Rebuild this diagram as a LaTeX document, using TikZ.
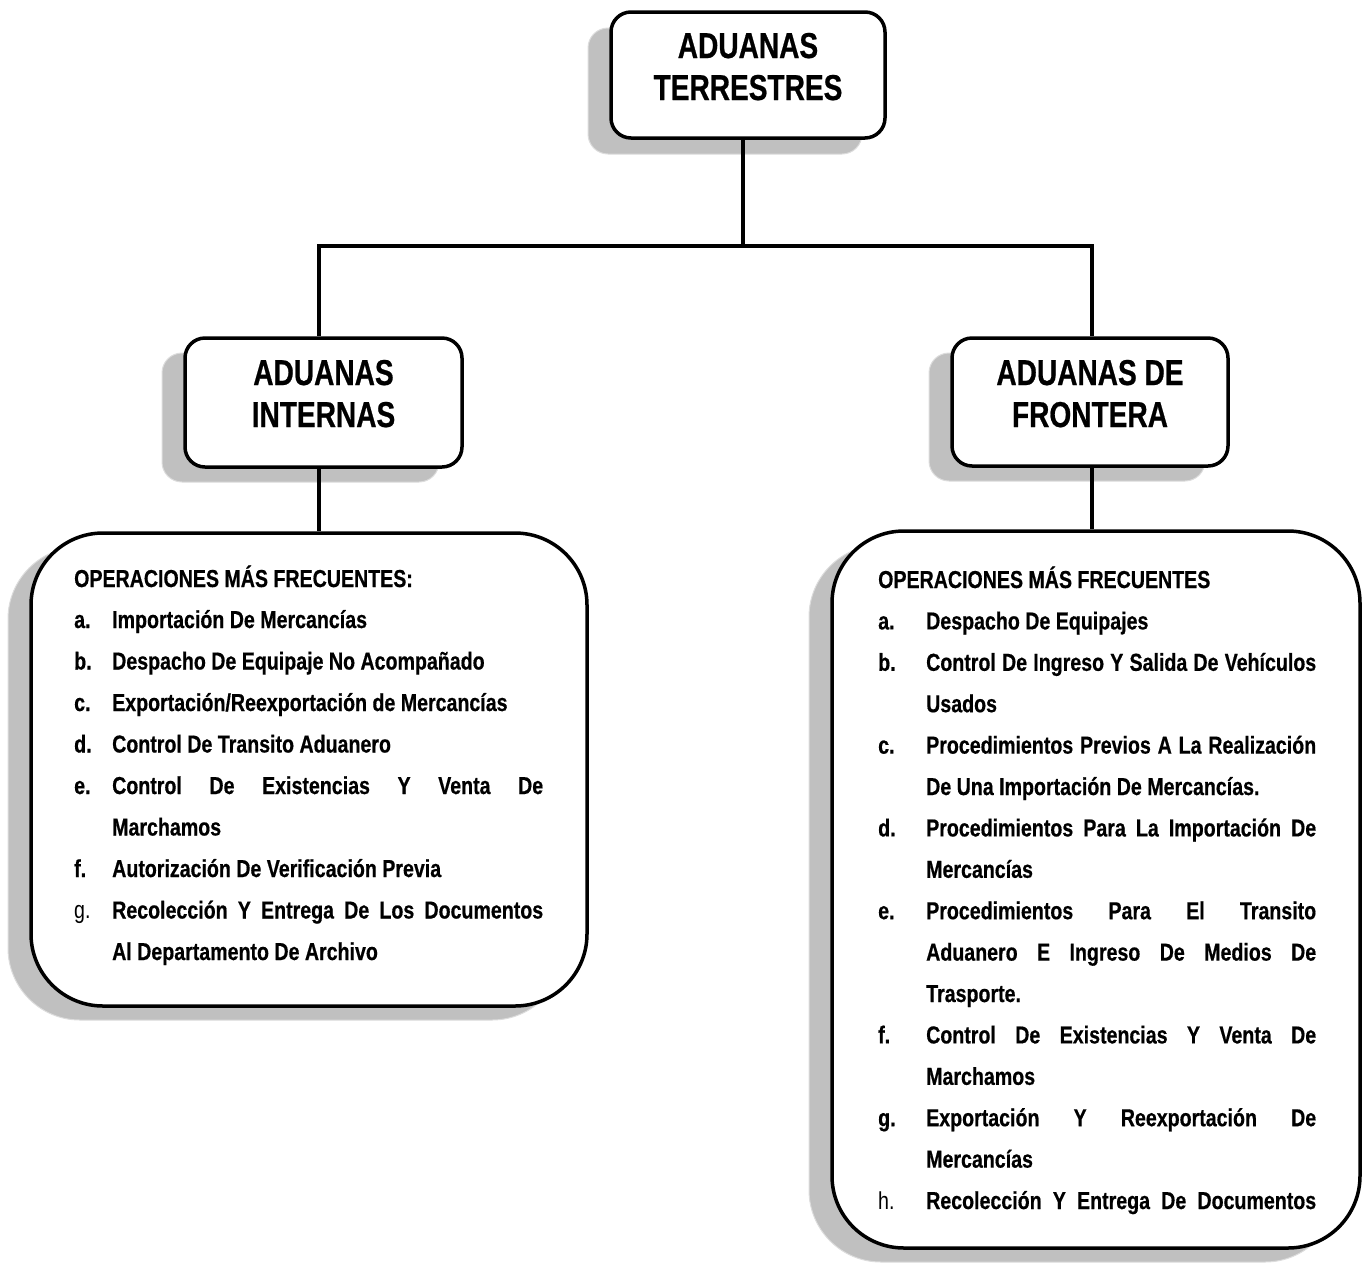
\documentclass[tikz,border=0pt]{standalone}
\usepackage{fontspec}
\setmainfont{Liberation Sans}
\newfontfamily\titlefont{Liberation Sans}[FakeStretch=0.78, BoldFeatures={FakeBold=0.6}]
\newfontfamily\bodyfont{Liberation Sans}[FakeStretch=0.8, BoldFeatures={FakeBold=0.5}]
\definecolor{shadowgray}{HTML}{C0C0C0}
\definecolor{shadowedge}{HTML}{DCDCDC}
\tikzset{
  shadowbox/.style={rectangle, inner sep=0pt, fill=shadowgray, draw=shadowedge, line width=1pt},
  mainbox/.style={rectangle, inner sep=0pt, fill=white, draw=black, line width=3.5pt},
  titletext/.style={inner sep=0pt, anchor=base, font=\titlefont\bfseries\fontsize{36}{42}\selectfont},
  bodytext/.style={inner sep=0pt, anchor=base west, font=\bodyfont\bfseries\fontsize{24.5}{30}\selectfont},
  lettertext/.style={inner sep=0pt, anchor=base west, font=\bodyfont\bfseries\fontsize{24.5}{30}\selectfont},
  plainletter/.style={inner sep=0pt, anchor=base west, font=\bodyfont\mdseries\fontsize{24.5}{30}\selectfont},
  connector/.style={draw=black, line width=3.5pt}
}
\newcommand{\LW}[1]{\makebox[431pt][s]{#1}}
\newcommand{\RW}[1]{\makebox[390pt][s]{#1}}
\begin{document}
\begin{tikzpicture}[x=1pt, y=-1pt]
\useasboundingbox (0,0) rectangle (1366,1262);

% shadows
\node[shadowbox, rounded corners=20pt, minimum width=274pt, minimum height=126pt] (topS) at (725,91) {};
\node[shadowbox, rounded corners=20pt, minimum width=277pt, minimum height=129pt] (lboxS) at (300.5,417.5) {};
\node[shadowbox, rounded corners=20pt, minimum width=276pt, minimum height=128pt] (rboxS) at (1067,417) {};
\node[shadowbox, rounded corners=72pt, minimum width=556pt, minimum height=473pt] (lbigS) at (286,783.5) {};
\node[shadowbox, rounded corners=72pt, minimum width=528pt, minimum height=717pt] (rbigS) at (1073,903.5) {};

% boxes
\node[mainbox, rounded corners=20pt, minimum width=274pt, minimum height=126pt] (top) at (748,75) {};
\node[mainbox, rounded corners=20pt, minimum width=277pt, minimum height=129pt] (lbox) at (323.5,402.5) {};
\node[mainbox, rounded corners=20pt, minimum width=276pt, minimum height=128pt] (rbox) at (1090,402) {};
\node[mainbox, rounded corners=72pt, minimum width=556pt, minimum height=473pt] (lbig) at (309,769.5) {};
\node[mainbox, rounded corners=72pt, minimum width=528pt, minimum height=717pt] (rbig) at (1096,889.5) {};

% connectors
\coordinate (jt) at (743,246);
\coordinate (jl) at (319,246);
\coordinate (jr) at (1092,246);
\draw[connector] (jt |- top.south) -- (jt);
\draw[connector, line cap=rect] (jl) -- (jr);
\draw[connector] (jl) -- (jl |- lbox.north);
\draw[connector] (jr) -- (jr |- rbox.north);
\draw[connector] (jl |- lbox.south) -- (jl |- lbig.north);
\draw[connector] (jr |- rbox.south) -- (jr |- rbig.north);

% titles
\node[titletext] (t1) at (748,58) {ADUANAS};
\node[titletext] (t2) at (748,100) {TERRESTRES};
\node[titletext] (l1) at (323.5,385) {ADUANAS};
\node[titletext] (l2) at (323.5,427) {INTERNAS};
\node[titletext] (r1) at (1090,385) {ADUANAS DE};
\node[titletext] (r2) at (1090,427) {FRONTERA};

% left list
\node[bodytext] (lh) at (74,587) {OPERACIONES MÁS FRECUENTES:};
\node[lettertext] (la) at (74,628) {a.};
\node[bodytext] (lat) at (112,628) {Importación De Mercancías};
\node[lettertext] (lb) at (74,669.5) {b.};
\node[bodytext] (lbt) at (112,669.5) {Despacho De Equipaje No Acompañado};
\node[lettertext] (lc) at (74,711) {c.};
\node[bodytext] (lct) at (112,711) {Exportación/Reexportación de Mercancías};
\node[lettertext] (ld) at (74,752.5) {d.};
\node[bodytext] (ldt) at (112,752.5) {Control De Transito Aduanero};
\node[lettertext] (le) at (74,794) {e.};
\node[bodytext] (let) at (112,794) {\LW{Control De Existencias Y Venta De}};
\node[bodytext] (let2) at (112,835.5) {Marchamos};
\node[lettertext] (lf) at (74,877) {f.};
\node[bodytext] (lft) at (112,877) {Autorización De Verificación Previa};
\node[plainletter] (lg) at (74,918.5) {g.};
\node[bodytext] (lgt) at (112,918.5) {\LW{Recolección Y Entrega De Los Documentos}};
\node[bodytext] (lgt2) at (112,960) {Al Departamento De Archivo};

% right list
\node[bodytext] (rh) at (878,588) {OPERACIONES MÁS FRECUENTES};
\node[lettertext] (ra) at (878,629.4) {a.};
\node[bodytext] (rat) at (926,629.4) {Despacho De Equipajes};
\node[lettertext] (rb) at (878,670.8) {b.};
\node[bodytext] (rbt) at (926,670.8) {\RW{Control De Ingreso Y Salida De Vehículos}};
\node[bodytext] (rbt2) at (926,712.2) {Usados};
\node[lettertext] (rc) at (878,753.6) {c.};
\node[bodytext] (rct) at (926,753.6) {\RW{Procedimientos Previos A La Realización}};
\node[bodytext] (rct2) at (926,795) {De Una Importación De Mercancías.};
\node[lettertext] (rd) at (878,836.4) {d.};
\node[bodytext] (rdt) at (926,836.4) {\RW{Procedimientos Para La Importación De}};
\node[bodytext] (rdt2) at (926,877.8) {Mercancías};
\node[lettertext] (re) at (878,919.2) {e.};
\node[bodytext] (ret) at (926,919.2) {\RW{Procedimientos Para El Transito}};
\node[bodytext] (ret2) at (926,960.6) {\RW{Aduanero E Ingreso De Medios De}};
\node[bodytext] (ret3) at (926,1002) {Trasporte.};
\node[lettertext] (rf) at (878,1043.4) {f.};
\node[bodytext] (rft) at (926,1043.4) {\RW{Control De Existencias Y Venta De}};
\node[bodytext] (rft2) at (926,1084.8) {Marchamos};
\node[lettertext] (rg) at (878,1126.2) {g.};
\node[bodytext] (rgt) at (926,1126.2) {\RW{Exportación Y Reexportación De}};
\node[bodytext] (rgt2) at (926,1167.6) {Mercancías};
\node[plainletter] (rhh) at (878,1209) {h.};
\node[bodytext] (rht) at (926,1209) {\RW{Recolección Y Entrega De Documentos}};
\end{tikzpicture}
\end{document}
